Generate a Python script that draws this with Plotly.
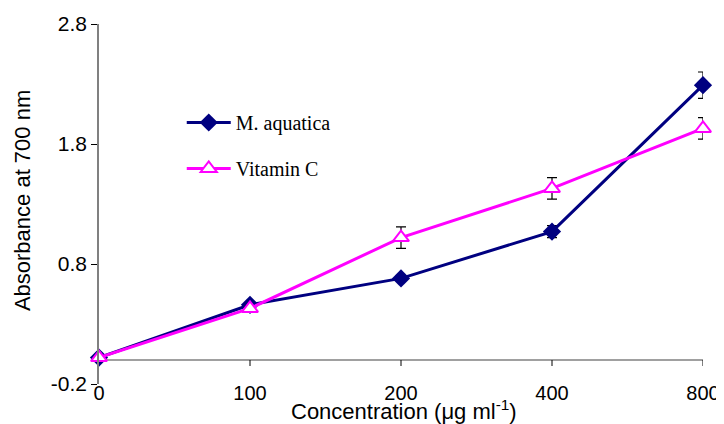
import plotly.graph_objects as go

categories = ["0", "100", "200", "400", "800"]
m_aquatica = [0.02, 0.46, 0.68, 1.07, 2.29]
m_aquatica_err = [0.0, 0.02, 0.02, 0.05, 0.11]
vitamin_c = [0.02, 0.43, 1.02, 1.43, 1.93]
vitamin_c_err = [0.0, 0.02, 0.09, 0.09, 0.09]
y_ticks = [-0.2, 0.8, 1.8, 2.8]

xpos = list(range(len(categories)))

fig = go.Figure()
fig.add_trace(go.Scatter(
    x=xpos, y=m_aquatica, name="M. aquatica", mode="lines+markers",
    line=dict(color="#000080", width=3),
    marker=dict(symbol="diamond", size=14, color="#000080"),
    error_y=dict(type="data", array=m_aquatica_err, color="black", thickness=1.2, width=5),
    cliponaxis=False, legendgroup="a",
))
fig.add_trace(go.Scatter(
    x=xpos, y=vitamin_c, name="Vitamin C", mode="lines+markers",
    line=dict(color="#FF00FF", width=3),
    marker=dict(symbol="triangle-up", size=14, color="white",
                line=dict(color="#FF00FF", width=2)),
    error_y=dict(type="data", array=vitamin_c_err, color="black", thickness=1.2, width=5),
    cliponaxis=False, legendgroup="b",
))

# x axis line at y = 0 and its tick marks
shapes = [dict(type="line", xref="x", yref="y", x0=0, x1=len(categories) - 1, y0=0, y1=0,
               line=dict(color="#808080", width=1.5), layer="below")]
for xi in xpos[1:]:
    shapes.append(dict(type="line", xref="x", yref="y", ysizemode="pixel", yanchor=0,
                       x0=xi, x1=xi, y0=0, y1=-6, line=dict(color="black", width=1)))

annotations = [
    dict(text="Concentration (μg ml<sup>-1</sup>)", xref="paper", yref="paper",
         x=0.5, y=0, xanchor="center", yanchor="middle", yshift=-26, xshift=3,
         showarrow=False, font=dict(size=22)),
    dict(text="Absorbance at 700 nm", xref="paper", yref="paper",
         x=0, y=0.508, xanchor="center", yanchor="middle", xshift=-77, textangle=-90,
         showarrow=False, font=dict(size=22)),
]

fig.update_layout(
    width=716, height=416,
    margin=dict(l=91, r=21, t=16, b=40, autoexpand=False),
    paper_bgcolor="white", plot_bgcolor="white",
    font=dict(family="Arial, Liberation Sans, sans-serif", size=21, color="black"),
    shapes=shapes,
    annotations=annotations,
    showlegend=True,
    legend=dict(x=0.137, y=0.6625, xanchor="left", yanchor="middle", itemwidth=44,
                font=dict(family="Liberation Serif, Times New Roman, serif", size=20),
                bgcolor="rgba(0,0,0,0)", tracegroupgap=17),
    xaxis=dict(range=[0, len(categories) - 1], tickvals=xpos, ticktext=categories,
               showline=False, showgrid=False, zeroline=False, ticks="",
               automargin=False, tickfont=dict(size=20), ticklabelstandoff=-5),
    yaxis=dict(range=[-0.2, 2.8], tickvals=y_ticks, ticktext=[f"{v:.1f}" for v in y_ticks],
               showline=True, linecolor="#808080", linewidth=1.5, showgrid=False,
               zeroline=False, ticks="outside", ticklen=6, tickcolor="black",
               automargin=False, tickfont=dict(size=21)),
)

fig.write_html("out.html")
